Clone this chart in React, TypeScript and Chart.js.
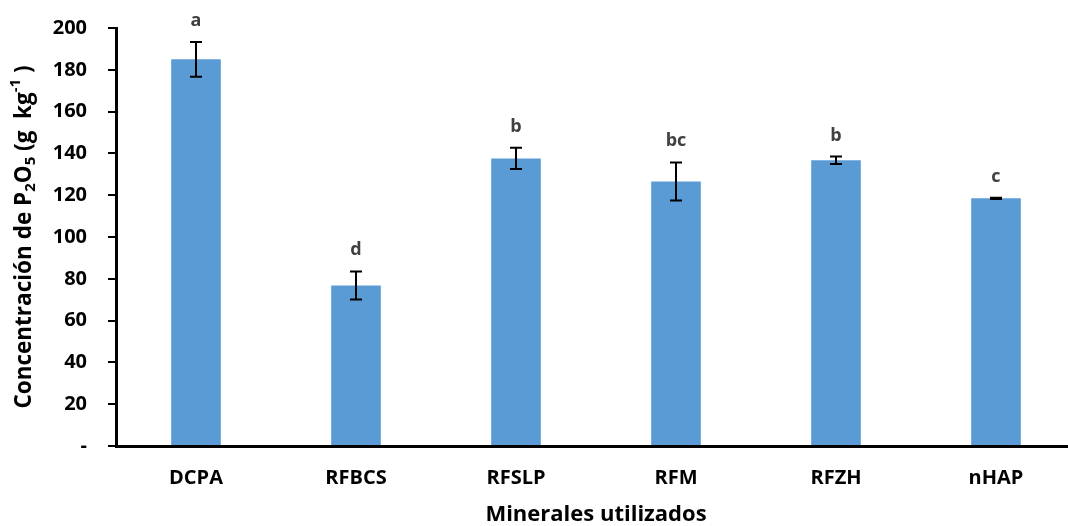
import React, { useEffect, useRef } from "react";
import { Chart, registerables } from "chart.js";

Chart.register(...registerables);

const categories = ["DCPA", "RFBCS", "RFSLP", "RFM", "RFZH", "nHAP"];
const values = [185, 76.8, 137.6, 126.6, 136.7, 118.5];
const errors = [8.3, 6.7, 5.1, 9.1, 1.8, 0.3];
const letters = ["a", "d", "b", "bc", "b", "c"];
const yTicks = [0, 20, 40, 60, 80, 100, 120, 140, 160, 180, 200];

const FONT = "'Open Sans', 'Noto Sans', sans-serif";

const errorBarPlugin = {
  id: "errorBars",
  afterDatasetsDraw(chart: any) {
    const ctx = chart.ctx;
    const meta = chart.getDatasetMeta(0);
    const yScale = chart.scales.y;
    ctx.save();
    meta.data.forEach((bar: any, i: number) => {
      const x = bar.x;
      const top = yScale.getPixelForValue(values[i] + errors[i]);
      const bot = yScale.getPixelForValue(values[i] - errors[i]);
      ctx.strokeStyle = "#000";
      ctx.lineWidth = 2;
      ctx.beginPath();
      ctx.moveTo(x, top);
      ctx.lineTo(x, bot);
      ctx.moveTo(x - 6, top);
      ctx.lineTo(x + 6, top);
      ctx.moveTo(x - 6, bot);
      ctx.lineTo(x + 6, bot);
      ctx.stroke();
      ctx.fillStyle = "#404040";
      ctx.font = `bold 18px ${FONT}`;
      ctx.textAlign = "center";
      ctx.textBaseline = "alphabetic";
      ctx.fillText(letters[i], x, top - 16);
    });
    ctx.restore();
  },
};

const yTitlePlugin = {
  id: "yTitle",
  afterDraw(chart: any) {
    const ctx = chart.ctx;
    const area = chart.chartArea;
    const cy = (area.top + area.bottom) / 2;
    const big = `bold 22.5px ${FONT}`;
    const small = `bold 15px ${FONT}`;
    const segs: [string, string, number][] = [
      ["Concentración de P", big, 0],
      ["2", small, 6],
      ["O", big, 0],
      ["5", small, 6],
      [" (g  kg", big, 0],
      ["-1", small, -9],
      [" )", big, 0],
    ];
    ctx.save();
    let total = 0;
    segs.forEach(([t, f]) => {
      ctx.font = f;
      total += ctx.measureText(t).width;
    });
    ctx.translate(25, cy);
    ctx.rotate(-Math.PI / 2);
    ctx.fillStyle = "#000";
    ctx.textAlign = "left";
    ctx.textBaseline = "middle";
    let x = -total / 2;
    segs.forEach(([t, f, dy]) => {
      ctx.font = f;
      ctx.fillText(t, x, dy);
      x += ctx.measureText(t).width;
    });
    ctx.restore();
  },
};

export default function App() {
  const ref = useRef<HTMLCanvasElement>(null);
  useEffect(() => {
    if (!ref.current) return;
    const chart = new Chart(ref.current, {
      type: "bar",
      data: {
        labels: categories,
        datasets: [
          {
            data: values,
            backgroundColor: "#5B9BD5",
            borderWidth: 0,
            barPercentage: 0.31,
            categoryPercentage: 1,
          },
        ],
      },
      plugins: [errorBarPlugin, yTitlePlugin],
      options: {
        responsive: false,
        animation: false,
        layout: { padding: { top: 28, right: 14, left: 0, bottom: 0 } },
        plugins: { legend: { display: false }, tooltip: { enabled: false } },
        scales: {
          x: {
            grid: { display: false, drawTicks: false },
            border: { display: true, color: "#000", width: 3 },
            ticks: {
              color: "#000",
              font: { family: FONT, size: 20, weight: "bold" },
              padding: 20,
            },
            title: {
              display: true,
              text: "Minerales utilizados",
              color: "#000",
              font: { family: FONT, size: 22, weight: "bold", lineHeight: 1 },
              padding: { top: 0, bottom: 0 },
            },
            afterFit(scale: any) {
              scale.height = 80;
              scale.paddingLeft = 0;
              scale.paddingRight = 0;
            },
          },
          y: {
            min: 0,
            max: 200,
            afterBuildTicks(scale: any) {
              scale.ticks = yTicks.map((v) => ({ value: v }));
            },
            grid: {
              display: true,
              drawOnChartArea: false,
              drawTicks: true,
              tickLength: 8,
              color: "#000",
              lineWidth: 2,
            },
            border: { display: true, color: "#000", width: 3 },
            ticks: {
              color: "#000",
              font: { family: FONT, size: 20, weight: "bold" },
              padding: 21,
              callback: (v: any) => (Number(v) === 0 ? "-" : String(v)),
            },
            afterFit(scale: any) {
              scale.width = 116;
              scale.paddingTop = 0;
              scale.paddingBottom = 0;
            },
          },
        },
      },
    } as any);
    return () => chart.destroy();
  }, []);
  return (
    <div
      style={{
        position: "fixed",
        left: 0,
        top: 0,
        width: 1068,
        height: 526,
        overflow: "hidden",
        background: "#fff",
      }}
    >
      <canvas ref={ref} width={1090} height={526} style={{ width: 1090, height: 526, display: "block" }} />
    </div>
  );
}
